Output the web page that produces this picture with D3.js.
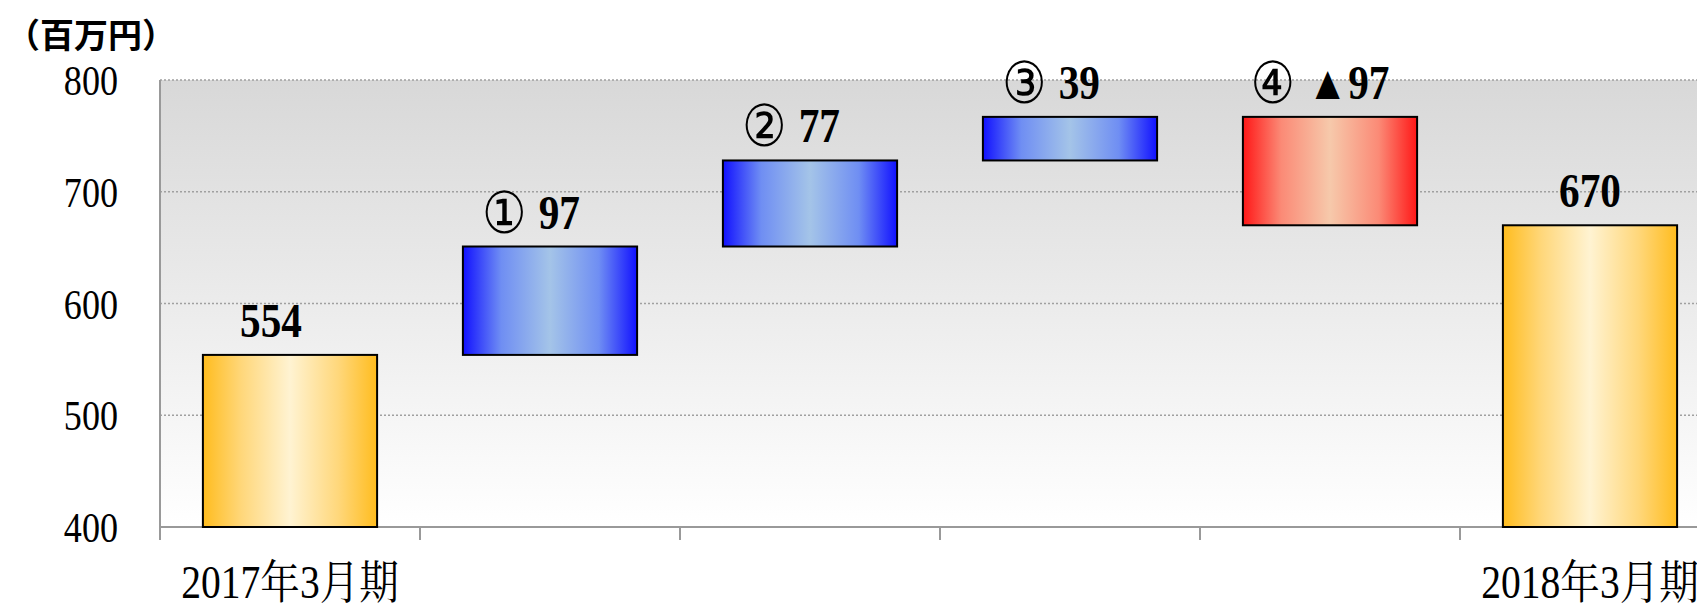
<!DOCTYPE html>
<html>
<head>
<meta charset="utf-8">
<script src="https://cdn.jsdelivr.net/npm/d3@7"></script>
<style>
  body { margin: 0; background: #fff; }
  svg { display: block; }
</style>
</head>
<body>
<div id="chart"></div>
<script>
// waterfall data (百万円)
var categories = ["2017年3月期", "①", "②", "③", "④", "2018年3月期"];
var xLabels = ["2017年3月期", "", "", "", "", "2018年3月期"];
var values = [554, 97, 77, 39, -97, 670];
var kinds = ["total", "up", "up", "up", "down", "total"];
var yTicks = [400, 500, 600, 700, 800];
var unitLabel = "（百万円）";

var width = 1697, height = 603,
    plotLeft = 160, plotBottom = 527, plotTop = 80,
    plotRight = 1720;

var svg = d3.select("#chart").append("svg")
    .attr("width", width)
    .attr("height", height);

var defs = svg.append("defs");

function hGrad(id, stops) {
    var g = defs.append("linearGradient")
        .attr("id", id)
        .attr("x1", "0%").attr("x2", "100%")
        .attr("y1", "0%").attr("y2", "0%");
    stops.forEach(function(s) {
        g.append("stop").attr("offset", s[0]).attr("stop-color", s[1]);
    });
}
hGrad("gTotal", [["0%", "#ffbc1e"], ["22%", "#ffd77a"], ["50%", "#fff3d2"], ["78%", "#ffd77a"], ["100%", "#ffbc1e"]]);
hGrad("gUp", [["0%", "#1111ff"], ["22%", "#6f8ef3"], ["50%", "#a4c4e8"], ["78%", "#6f8ef3"], ["100%", "#1111ff"]]);
hGrad("gDown", [["0%", "#ff1717"], ["22%", "#fb8a76"], ["50%", "#f6c9ab"], ["78%", "#fb8a76"], ["100%", "#ff1717"]]);

var bg = defs.append("linearGradient")
    .attr("id", "gBg")
    .attr("x1", "0%").attr("x2", "0%")
    .attr("y1", "0%").attr("y2", "100%");
bg.append("stop").attr("offset", "0%").attr("stop-color", "#d8d8d8");
bg.append("stop").attr("offset", "100%").attr("stop-color", "#ffffff");

var x = d3.scaleBand()
    .domain(categories)
    .range([plotLeft, plotRight])
    .paddingInner(0.33)
    .paddingOuter(0.165);

var y = d3.scaleLinear()
    .domain([400, 800])
    .range([plotBottom, plotTop]);

// build waterfall steps
var running = 0;
var bars = categories.map(function(c, i) {
    var v = values[i], lo, hi;
    if (kinds[i] == "total") {
        lo = 400; hi = v; running = v;
    } else {
        var next = running + v;
        lo = Math.min(running, next);
        hi = Math.max(running, next);
        running = next;
    }
    var num = kinds[i] == "total" ? String(v) : (v < 0 ? "▲" + Math.abs(v) : String(v));
    var mark = kinds[i] == "total" ? "" : c;
    return {cat: c, lo: lo, hi: hi, kind: kinds[i], mark: mark, num: num, i: i};
});

// plot background
svg.append("rect")
    .attr("x", plotLeft)
    .attr("y", y(800))
    .attr("width", plotRight - plotLeft)
    .attr("height", y(400) - y(800))
    .attr("fill", "url(#gBg)");

// grid lines
svg.selectAll("line.grid")
    .data(yTicks.filter(function(t) { return t > 400; }))
    .enter().append("line")
    .attr("class", "grid")
    .attr("x1", plotLeft).attr("x2", plotRight)
    .attr("y1", function(d) { return y(d); })
    .attr("y2", function(d) { return y(d); })
    .attr("stroke", "#a0a0a0")
    .attr("stroke-width", 1.5)
    .attr("stroke-dasharray", "2,2");

// y tick labels
svg.selectAll("text.ytick")
    .data(yTicks)
    .enter().append("text")
    .attr("class", "ytick")
    .attr("transform", function(d) {
        return "translate(118," + (y(d) + 15) + ") scale(0.86,1)";
    })
    .attr("text-anchor", "end")
    .style("font", "42px 'Liberation Serif', serif")
    .text(function(d) { return d; });

// axes lines
svg.append("line")
    .attr("x1", plotLeft).attr("x2", plotLeft)
    .attr("y1", y(800)).attr("y2", plotBottom + 13)
    .attr("stroke", "#999").attr("stroke-width", 2);
svg.append("line")
    .attr("x1", plotLeft).attr("x2", plotRight)
    .attr("y1", plotBottom).attr("y2", plotBottom)
    .attr("stroke", "#999").attr("stroke-width", 2);

var step = x.step();
var tickXs = categories.map(function(c) {
    return x(c) + x.bandwidth() / 2 - step / 2;
});
tickXs.push(plotRight);
svg.selectAll("line.xtick")
    .data(tickXs)
    .enter().append("line")
    .attr("class", "xtick")
    .attr("x1", function(d) { return d; })
    .attr("x2", function(d) { return d; })
    .attr("y1", plotBottom).attr("y2", plotBottom + 13)
    .attr("stroke", "#999").attr("stroke-width", 2);

// bars
svg.selectAll("rect.bar")
    .data(bars)
    .enter().append("rect")
    .attr("class", "bar")
    .attr("x", function(d) { return x(d.cat); })
    .attr("width", x.bandwidth())
    .attr("y", function(d) { return y(d.hi); })
    .attr("height", function(d) { return y(d.lo) - y(d.hi); })
    .attr("fill", function(d) {
        return d.kind == "total" ? "url(#gTotal)" : (d.kind == "up" ? "url(#gUp)" : "url(#gDown)");
    })
    .attr("stroke", "#000")
    .attr("stroke-width", 2);

// value labels
var valText = svg.selectAll("text.val")
    .data(bars)
    .enter().append("text")
    .attr("class", "val")
    .attr("transform", function(d) {
        var shift = d.i == bars.length - 1 ? 0 : (d.kind == "down" ? -10 : -19);
        var cx = x(d.cat) + x.bandwidth() / 2 + shift;
        return "translate(" + cx + "," + (y(d.hi) - 18) + ") scale(0.86,1)";
    })
    .attr("text-anchor", "middle")
    .style("font", "bold 48px 'Liberation Serif', serif");

valText.filter(function(d) { return d.mark; })
    .append("tspan")
    .attr("font-family", "'DejaVu Sans', 'Noto Sans CJK JP', sans-serif")
    .attr("font-size", "58px")
    .attr("font-weight", "normal")
    .attr("dy", 4)
    .text(function(d) { return d.mark; });

valText.append("tspan")
    .attr("dy", function(d) { return d.mark ? -4 : 0; })
    .attr("dx", function(d) { return d.mark ? 14 : 0; })
    .text(function(d) { return d.num; });

// category labels
svg.selectAll("text.xlab")
    .data(categories)
    .enter().append("text")
    .attr("class", "xlab")
    .attr("transform", function(d) {
        return "translate(" + (x(d) + x.bandwidth() / 2) + ",598) scale(0.86,1)";
    })
    .attr("text-anchor", "middle")
    .style("font", "46px 'Liberation Serif', 'Noto Serif CJK JP', 'Noto Sans CJK JP', serif")
    .text(function(d, i) { return xLabels[i]; });

// unit label
svg.append("text")
    .attr("x", 6)
    .attr("y", 48)
    .style("font", "bold 34px 'Noto Sans CJK JP', sans-serif")
    .text(unitLabel);
</script>
</body>
</html>
